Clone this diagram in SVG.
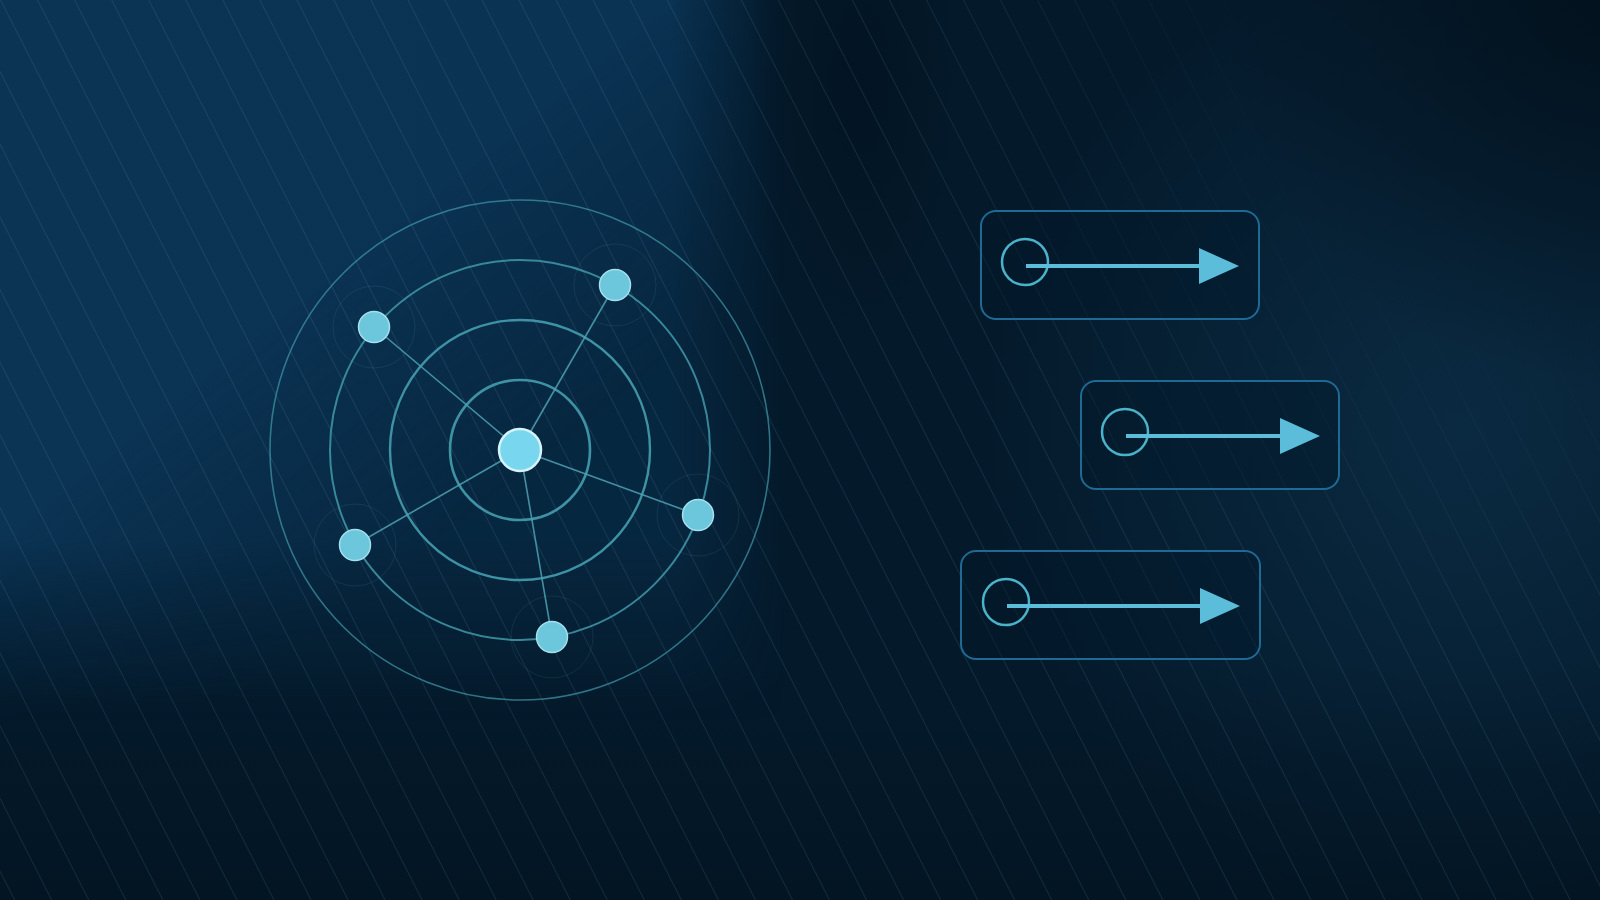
<svg xmlns="http://www.w3.org/2000/svg" width="1600" height="900" viewBox="0 0 1600 900">
<defs>
<linearGradient id="lightH" gradientUnits="userSpaceOnUse" x1="0" y1="0" x2="1600" y2="0">
<stop offset="0" stop-color="#0b3353"/>
<stop offset="0.42" stop-color="#0a3252"/>
<stop offset="0.49" stop-color="#0a3252" stop-opacity="0"/>
</linearGradient>
<linearGradient id="fadeV" gradientUnits="userSpaceOnUse" x1="0" y1="0" x2="0" y2="900">
<stop offset="0" stop-color="#fff"/>
<stop offset="0.6" stop-color="#fff"/>
<stop offset="0.8" stop-color="#000"/>
</linearGradient>
<linearGradient id="fadeD" gradientUnits="userSpaceOnUse" x1="0" y1="0" x2="437" y2="546">
<stop offset="0" stop-color="#fff"/>
<stop offset="0.6" stop-color="#fff"/>
<stop offset="1" stop-color="#888"/>
</linearGradient>
<mask id="maskV" maskUnits="userSpaceOnUse" x="0" y="0" width="1600" height="900">
<rect width="1600" height="900" fill="url(#fadeV)"/>
</mask>
<mask id="maskD" maskUnits="userSpaceOnUse" x="0" y="0" width="1600" height="900">
<rect width="1600" height="900" fill="url(#fadeD)"/>
</mask>
<radialGradient id="band" gradientUnits="userSpaceOnUse" cx="860" cy="80" r="120" gradientTransform="translate(860 80) scale(1 2.6) translate(-860 -80)">
<stop offset="0" stop-color="#021220" stop-opacity="0.75"/>
<stop offset="1" stop-color="#021220" stop-opacity="0"/>
</radialGradient>
<radialGradient id="bgR" gradientUnits="userSpaceOnUse" cx="1460" cy="430" r="480">
<stop offset="0" stop-color="#0b2c44" stop-opacity="0.9"/>
<stop offset="1" stop-color="#0b2c44" stop-opacity="0"/>
</radialGradient>
<radialGradient id="bgTR" gradientUnits="userSpaceOnUse" cx="1600" cy="0" r="380">
<stop offset="0" stop-color="#020f1a" stop-opacity="0.8"/>
<stop offset="1" stop-color="#020f1a" stop-opacity="0"/>
</radialGradient>
<linearGradient id="bgB" gradientUnits="userSpaceOnUse" x1="0" y1="660" x2="0" y2="900">
<stop offset="0" stop-color="#02101b" stop-opacity="0"/>
<stop offset="1" stop-color="#02101b" stop-opacity="0.5"/>
</linearGradient>
<radialGradient id="stripeFade" gradientUnits="userSpaceOnUse" cx="1600" cy="0" r="700">
<stop offset="0" stop-color="#000"/>
<stop offset="0.45" stop-color="#000"/>
<stop offset="1" stop-color="#fff"/>
</radialGradient>
<mask id="stripeMask" maskUnits="userSpaceOnUse" x="0" y="0" width="1600" height="900">
<rect width="1600" height="900" fill="url(#stripeFade)"/>
</mask>
<pattern id="stripes" patternUnits="userSpaceOnUse" width="33" height="20" patternTransform="rotate(-27)">
<line x1="0.5" y1="0" x2="0.5" y2="20" stroke="#8cc4dc" stroke-opacity="0.13" stroke-width="1"/>
</pattern>
<marker id="arrow" viewBox="0 0 40 36" refX="1" refY="18" markerWidth="40" markerHeight="36" markerUnits="userSpaceOnUse" orient="auto">
<path d="M0,0 L40,18 L0,36 Z" fill="#5bbdd9"/>
</marker>
<style>
.ring{fill:none;stroke:#3e92a4}
.halo{fill:none;stroke:#5aa8bc;stroke-opacity:0.13;stroke-width:1}
.edge{stroke:#4fa2b4;stroke-width:1.6;stroke-opacity:0.85}
.node{fill:#6cc6dc;stroke:#a4e0ee;stroke-width:1.5}
.hub{fill:#78d6ee;stroke:#d4f3fa;stroke-width:2.5}
.box{fill:#03182a;fill-opacity:0.45;stroke:#1e6a94;stroke-width:2}
.ic{fill:none;stroke:#4ab2c9;stroke-width:2.5}
.ar{stroke:#5bbdd9;stroke-width:4;marker-end:url(#arrow)}
</style>
</defs>
<g id="background">
<rect width="1600" height="900" fill="#041a2b"/>
<g mask="url(#maskD)">
<rect width="1600" height="900" fill="url(#lightH)" mask="url(#maskV)"/>
</g>
<rect width="1600" height="900" fill="url(#band)"/>
<rect width="1600" height="900" fill="url(#bgR)"/>
<rect width="1600" height="900" fill="url(#bgTR)"/>
<rect width="1600" height="900" fill="url(#bgB)"/>
<rect width="1600" height="900" fill="url(#stripes)" mask="url(#stripeMask)"/>
</g>
<g id="rings">
<circle class="ring" cx="520" cy="450" r="250" stroke-width="1.6" stroke-opacity="0.75"/>
<circle class="ring" cx="520" cy="450" r="190" stroke-width="2" stroke-opacity="0.9"/>
<circle class="ring" cx="520" cy="450" r="130" stroke-width="2.4"/>
<circle class="ring" cx="520" cy="450" r="70" stroke-width="2.6" stroke="#4aa3b6"/>
</g>
<g id="halos">
<circle class="halo" cx="615" cy="285" r="41"/>
<circle class="halo" cx="374" cy="327" r="41"/>
<circle class="halo" cx="698" cy="515" r="41"/>
<circle class="halo" cx="355" cy="545" r="41"/>
<circle class="halo" cx="552" cy="637" r="41"/>
</g>
<g id="connectors">
<line class="edge" x1="520" y1="450" x2="615" y2="285"/>
<line class="edge" x1="520" y1="450" x2="374" y2="327"/>
<line class="edge" x1="520" y1="450" x2="698" y2="515"/>
<line class="edge" x1="520" y1="450" x2="355" y2="545"/>
<line class="edge" x1="520" y1="450" x2="552" y2="637"/>
</g>
<g id="node-hub"><circle class="hub" cx="520" cy="450" r="21"/></g>
<g id="node-1"><circle class="node" cx="615" cy="285" r="15.5"/></g>
<g id="node-2"><circle class="node" cx="374" cy="327" r="15.5"/></g>
<g id="node-3"><circle class="node" cx="698" cy="515" r="15.5"/></g>
<g id="node-4"><circle class="node" cx="355" cy="545" r="15.5"/></g>
<g id="node-5"><circle class="node" cx="552" cy="637" r="15.5"/></g>
<g id="box-1">
<rect class="box" x="981" y="211" width="278" height="108" rx="15"/>
<circle class="ic" cx="1025" cy="262" r="23"/>
<line class="ar" x1="1026" y1="266" x2="1200" y2="266"/>
</g>
<g id="box-2">
<rect class="box" x="1081" y="381" width="258" height="108" rx="15"/>
<circle class="ic" cx="1125" cy="432" r="23"/>
<line class="ar" x1="1126" y1="436" x2="1281" y2="436"/>
</g>
<g id="box-3">
<rect class="box" x="961" y="551" width="299" height="108" rx="15"/>
<circle class="ic" cx="1006" cy="602" r="23"/>
<line class="ar" x1="1007" y1="606" x2="1201" y2="606"/>
</g>
</svg>
